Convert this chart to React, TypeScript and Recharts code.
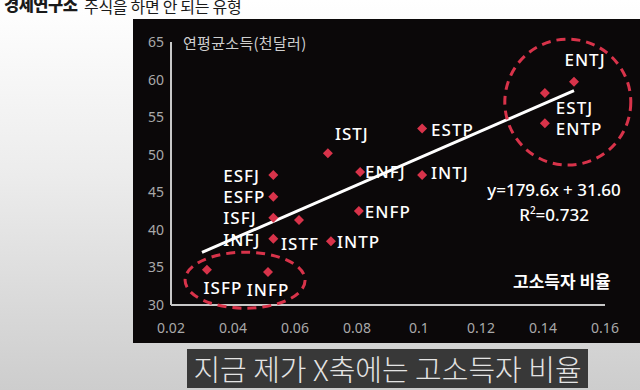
import React from 'react';
import { ScatterChart, Scatter, XAxis, YAxis, ReferenceLine, ReferenceDot } from 'recharts';

// MBTI types, share of high earners (x) and average yearly income in k$ (y)
const TYPES = ['ENTJ', 'ESTJ', 'ENTP', 'ESTP', 'INTJ', 'ISTJ', 'ENFJ', 'ESFJ', 'ESFP', 'ISFJ', 'ISTF', 'INTP', 'INFJ', 'ENFP', 'ISFP', 'INFP'];
const HIGH_INCOME_RATIO = [0.15, 0.1406, 0.1406, 0.101, 0.101, 0.0706, 0.081, 0.053, 0.053, 0.053, 0.0613, 0.0716, 0.053, 0.0806, 0.0316, 0.0513];
const AVG_INCOME = [59.7, 58.2, 54.2, 53.5, 47.3, 50.2, 47.7, 47.3, 44.4, 41.6, 41.3, 38.5, 38.8, 42.5, 34.7, 34.4];

const X_TICKS = [0.02, 0.04, 0.06, 0.08, 0.1, 0.12, 0.14, 0.16];
const Y_TICKS = [30, 35, 40, 45, 50, 55, 60, 65];

// regression from the chart: y = 179.6x + 31.60
const SLOPE = 179.6;
const INTERCEPT = 31.6;
const TREND_X = [0.03, 0.15];

// highlighted groups (data coords of the dashed ellipse centres)
const TOP_GROUP = { x: 0.148, y: 57.0 };
const BOTTOM_GROUP = { x: 0.0439, y: 33.3 };

const data = TYPES.map((name, i) => ({ name, x: HIGH_INCOME_RATIO[i], y: AVG_INCOME[i] }));
const trend = TREND_X.map((x) => ({ x, y: SLOPE * x + INTERCEPT }));

const RED = '#d8334a';

// where each label sits relative to its marker
const LABEL_PLACE: Record<string, { dx: number; dy: number; anchor: 'start' | 'middle' | 'end' }> = {
  ENTJ: { dx: 11, dy: -22, anchor: 'middle' },
  ESTJ: { dx: 11, dy: 14, anchor: 'start' },
  ENTP: { dx: 11, dy: 5, anchor: 'start' },
  ESTP: { dx: 9, dy: 1, anchor: 'start' },
  INTJ: { dx: 9, dy: -3, anchor: 'start' },
  ISTJ: { dx: 24, dy: -20, anchor: 'middle' },
  ENFJ: { dx: 5, dy: 0, anchor: 'start' },
  ESFJ: { dx: -50, dy: 0, anchor: 'start' },
  ESFP: { dx: -50, dy: 0, anchor: 'start' },
  ISFJ: { dx: -50, dy: 0, anchor: 'start' },
  ISTF: { dx: 1, dy: 23, anchor: 'middle' },
  INTP: { dx: 6, dy: 0, anchor: 'start' },
  INFJ: { dx: -50, dy: 1, anchor: 'start' },
  ENFP: { dx: 6, dy: 0, anchor: 'start' },
  ISFP: { dx: 16, dy: 18, anchor: 'middle' },
  INFP: { dx: 0, dy: 18, anchor: 'middle' },
};

const Diamond = (props: any) => {
  const { cx, cy, payload } = props;
  const p = LABEL_PLACE[payload.name];
  const s = 5;
  return (
    <g>
      <polygon points={`${cx},${cy - s} ${cx + s},${cy} ${cx},${cy + s} ${cx - s},${cy}`} fill={RED} />
      <text
        x={cx + p.dx}
        y={cy + p.dy}
        textAnchor={p.anchor}
        dominantBaseline="central"
        fill="#ffffff"
        fontSize={17}
        fontWeight={500}
        letterSpacing={1}
        fontFamily="'Noto Sans', sans-serif"
      >
        {payload.name}
      </text>
    </g>
  );
};

const ellipseShape = (rx: number, ry: number) => (props: any) => (
  <ellipse
    cx={props.cx}
    cy={props.cy}
    rx={rx}
    ry={ry}
    fill="none"
    stroke={RED}
    strokeWidth={3}
    strokeDasharray="9 6"
  />
);

const App: React.FC = () => {
  return (
    <div
      style={{
        position: 'absolute',
        left: 0,
        top: 0,
        width: 640,
        height: 390,
        overflow: 'hidden',
        background: 'linear-gradient(to bottom, #ffffff 0%, #ececec 45%, #cdcdcd 100%)',
        fontFamily: "'Noto Sans CJK KR', 'Noto Sans', sans-serif",
      }}
    >
      <div style={{ position: 'absolute', left: 4, top: -8, fontSize: 16.5, fontWeight: 900, letterSpacing: -0.5, color: '#1a1a1a', whiteSpace: 'nowrap' }}>
        경제연구소
      </div>
      <div style={{ position: 'absolute', left: 84, top: -6, fontSize: 16, letterSpacing: -0.3, color: '#1a1a1a', whiteSpace: 'nowrap' }}>
        주식을 하면 안 되는 유형
      </div>

      <div style={{ position: 'absolute', left: 133, top: 19, width: 507, height: 324, background: '#0b0809' }}>
        <ScatterChart width={507} height={324} margin={{ top: 23, right: 35, bottom: 8, left: 0 }}>
          <XAxis
            type="number"
            dataKey="x"
            height={30}
            domain={[0.02, 0.16]}
            ticks={X_TICKS}
            tickFormatter={(v: number) => String(v)}
            tickLine={false}
            tickSize={6}
            tickMargin={12}
            axisLine={{ stroke: '#c8c8c8', strokeWidth: 2 }}
            tick={{ fill: '#a9a9a9', fontSize: 14, fontFamily: "'Noto Sans', sans-serif" }}
            allowDataOverflow
          />
          <YAxis
            type="number"
            dataKey="y"
            width={38}
            domain={[30, 65]}
            ticks={Y_TICKS}
            tickLine={false}
            tickSize={0}
            tickMargin={7}
            axisLine={{ stroke: '#c8c8c8', strokeWidth: 2 }}
            tick={{ fill: '#a9a9a9', fontSize: 14, fontFamily: "'Noto Sans', sans-serif" }}
            allowDataOverflow
          />
          <ReferenceLine
            segment={trend}
            stroke="#ffffff"
            strokeWidth={3}
            ifOverflow="visible"
          />
          <ReferenceDot x={TOP_GROUP.x} y={TOP_GROUP.y} r={1} ifOverflow="visible" shape={ellipseShape(63, 63)} />
          <ReferenceDot x={BOTTOM_GROUP.x} y={BOTTOM_GROUP.y} r={1} ifOverflow="visible" shape={ellipseShape(60, 28)} />
          <Scatter data={data} shape={Diamond} isAnimationActive={false} />
        </ScatterChart>

        <div style={{ position: 'absolute', left: 50, top: 13, fontSize: 15, letterSpacing: 0.3, color: '#cfcfcf', whiteSpace: 'nowrap' }}>
          연평균소득(천달러)
        </div>
        <div
          style={{
            position: 'absolute',
            left: 421,
            top: 161,
            transform: 'translateX(-50%)',
            fontSize: 17,
            lineHeight: '20px',
            color: '#ffffff',
            textAlign: 'center',
            whiteSpace: 'nowrap',
            fontFamily: "'Noto Sans', sans-serif",
            fontWeight: 500,
          }}
        >
          <div>y=179.6x + 31.60</div>
          <div>
            R<sup style={{ fontSize: 10 }}>2</sup>=0.732
          </div>
        </div>
        <div style={{ position: 'absolute', left: 380, top: 249, fontSize: 17, fontWeight: 700, color: '#ffffff', whiteSpace: 'nowrap' }}>
          고소득자 비율
        </div>
      </div>

      <div
        style={{
          position: 'absolute',
          left: 187,
          top: 349,
          width: 401,
          height: 39,
          background: '#383838',
          color: '#e4e4e4',
          fontSize: 29,
          lineHeight: '39px',
          textAlign: 'center',
          whiteSpace: 'nowrap',
          fontWeight: 300,
        }}
      >
        지금 제가 X축에는 고소득자 비율
      </div>
    </div>
  );
};

export default App;
